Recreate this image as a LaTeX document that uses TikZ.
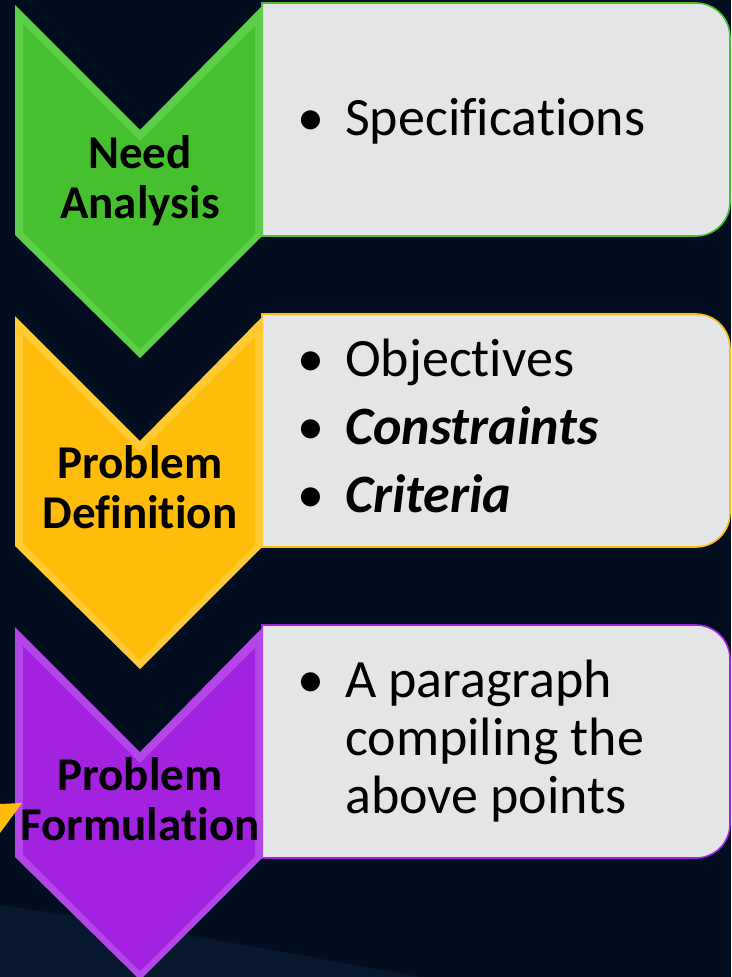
\documentclass[tikz,border=0pt]{standalone}
\usepackage{fontspec}
\setmainfont{Carlito}[Ligatures=NoCommon]
\usetikzlibrary{backgrounds}
\definecolor{NightBlue}{RGB}{2, 14, 32}
\definecolor{NightHaze}{RGB}{7, 23, 46}
\definecolor{PaleGrey}{RGB}{228, 229, 231}
\definecolor{LeafGreen}{RGB}{70, 192, 46}
\definecolor{LeafGreenLight}{RGB}{92, 206, 72}
\definecolor{Amber}{RGB}{255, 188, 10}
\definecolor{AmberLight}{RGB}{255, 202, 50}
\definecolor{Violet}{RGB}{162, 34, 224}
\definecolor{VioletLight}{RGB}{178, 70, 232}

\begin{document}
\begin{tikzpicture}[x=1pt,y=-1pt,background rectangle/.style={fill=NightBlue},
  inner frame sep=0pt, show background rectangle]
\tikzstyle{stage} = [align=center, inner sep=0pt, anchor=base,
    font=\fontsize{47}{50}\selectfont\bfseries]
\tikzstyle{item} = [align=left, inner sep=0pt, anchor=base west,
    font=\fontsize{54}{58}\selectfont]
\tikzstyle{boxline} = [fill=PaleGrey, line width=1.6pt]
\newcommand{\bull}{\makebox[48pt][l]{\textbullet}}

\useasboundingbox (0,0) rectangle (731,977);
\fill[NightHaze] (0,905) .. controls (140,925) and (300,955) .. (420,977) -- (0,977) -- cycle;

\foreach \yy/\face/\rim in {0/LeafGreen/LeafGreenLight, 311/Amber/AmberLight, 622/Violet/VioletLight} {
  \begin{scope}[shift={(0,\yy)}]
    % text box
    \draw[boxline, draw=\face] (262,3) [rounded corners=34pt] -- (730,3) -- (730,236)
      [sharp corners] -- (262,236) -- cycle;
    % chevron
    \fill[\rim] (15,5) -- (140,130) -- (263,5) -- (263,235) -- (140,358) -- (15,235) -- cycle;
    \fill[\face] (23,24) -- (140,141) -- (255,26) -- (255,234) -- (140,349) -- (23,232) -- cycle;
  \end{scope}
}
\fill[Amber] (0,804) -- (22,803) -- (0,833) -- cycle;

\node[stage] (need) at (140,218) {Need\\Analysis};
\node[stage] (definition) at (140,528) {Problem\\Definition};
\node[stage] (formulation) at (140,840) {Problem\\Formulation};
%
\node[item] (specs) at (297,135) {\bull Specifications};
\node[item] (goals) at (297,512) {\bull Objectives\\[10pt]
  \bull\textbf{\textit{Constraints}}\\[10pt]
  \bull\textbf{\textit{Criteria}}};
\node[item] (summary) at (297,813) {\bull A paragraph\\
  \hspace*{48pt}compiling the\\
  \hspace*{48pt}above points};
\end{tikzpicture}
\end{document}
